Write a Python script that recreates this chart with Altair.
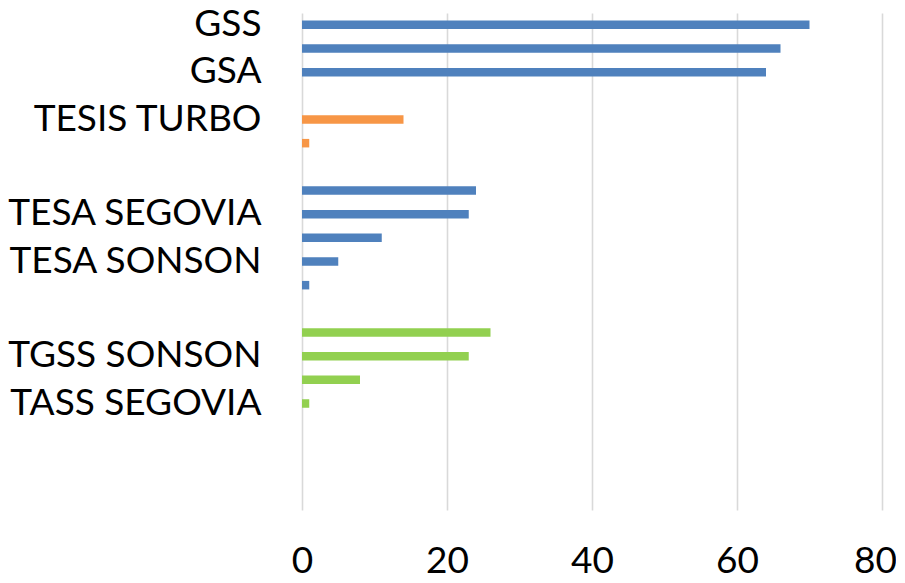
import altair as alt
import pandas as pd

# slot index (top to bottom) -> label shown on the axis ("" = hidden label)
slot_labels = ["GSS", "", "GSA", "", "TESIS TURBO", "", "", "", "TESA SEGOVIA", "",
               "TESA SONSON", "", "", "", "TGSS SONSON", "", "TASS SEGOVIA", "", "", "", ""]
bar_slots = [0, 1, 2, 4, 5, 7, 8, 9, 10, 11, 13, 14, 15, 16]
bar_values = [70, 66, 64, 14, 1, 24, 23, 11, 5, 1, 26, 23, 8, 1]
bar_groups = ["blue", "blue", "blue", "orange", "orange", "blue", "blue", "blue", "blue", "blue",
              "green", "green", "green", "green"]
group_names = ["blue", "orange", "green"]
group_colors = ["#4F81BD", "#F79646", "#92D050"]
x_ticks = [0, 20, 40, 60, 80]

df = pd.DataFrame({"slot": bar_slots, "value": bar_values, "group": bar_groups})

label_js = "[" + ",".join("'" + s + "'" for s in slot_labels) + "]"

FONT = "Lato"

chart = alt.Chart(df).mark_bar().encode(
    y=alt.Y("slot:O",
            scale=alt.Scale(domain=list(range(len(slot_labels))), paddingInner=0.64, paddingOuter=0.32),
            axis=alt.Axis(title=None, labelExpr=label_js + "[datum.value]", ticks=False, tickSize=0,
                          domain=False, grid=False, labelFontSize=37, labelFont=FONT,
                          labelColor="#000000", labelPadding=41, labelAlign="right",
                          labelBaseline="middle", labelLimit=0)),
    x=alt.X("value:Q",
            scale=alt.Scale(domain=[0, 80], nice=False),
            axis=alt.Axis(title=None, values=x_ticks, ticks=False, tickSize=0, domain=False,
                          grid=True, gridColor="#D9D9D9", gridWidth=1.6,
                          labelFontSize=37, labelFont=FONT, labelColor="#000000",
                          labelPadding=62, labelBaseline="alphabetic", labelFlush=False,
                          labelOffset={"condition": {"test": "datum.value == 80", "value": -7},
                                       "value": 0})),
    color=alt.Color("group:N", scale=alt.Scale(domain=group_names, range=group_colors), legend=None),
).properties(
    width=580,
    height=497,
    autosize=alt.AutoSizeParams(type="none"),
    padding={"left": 294, "top": 5, "right": 14, "bottom": 70},
).configure_view(stroke=None)

chart.save("out.html", embed_options={"renderer": "svg", "actions": False})
